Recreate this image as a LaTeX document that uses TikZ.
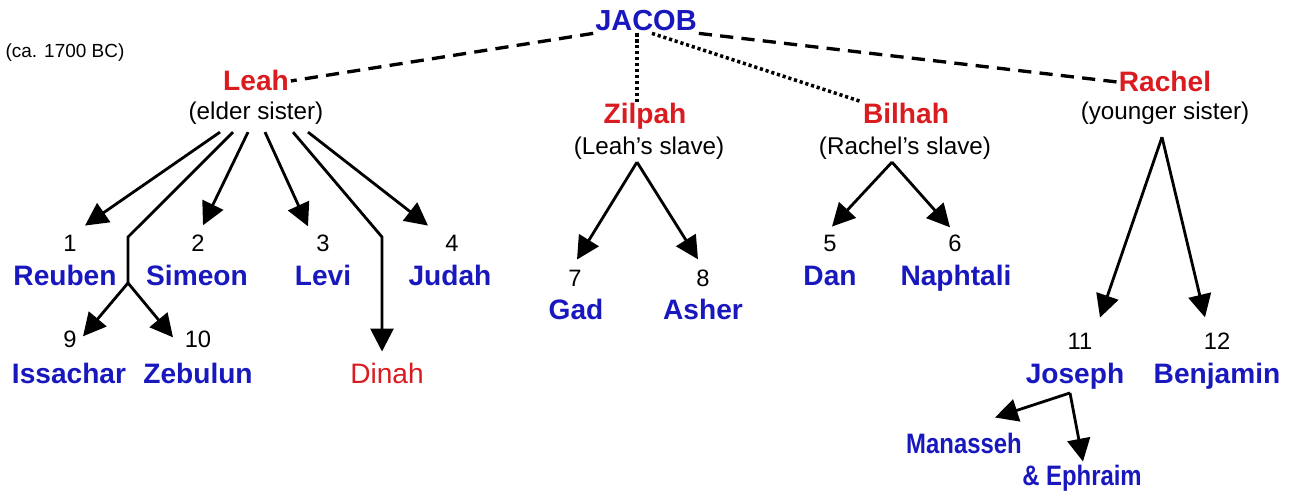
\documentclass[tikz,border=0pt]{standalone}
\usepackage{fontspec}
\setmainfont{Liberation Sans}
\newfontfamily\narrowsf[FakeStretch=0.85]{Liberation Sans}
\usetikzlibrary{arrows.meta, calc}
\definecolor{sonblue}{RGB}{24,24,190}
\definecolor{wifered}{RGB}{218,28,32}

\begin{document}
\begin{tikzpicture}[x=0.02cm, y=-0.02cm,
  every node/.style={inner sep=1pt, anchor=base},
  wife/.style={font=\fontsize{16}{19}\selectfont\bfseries, text=wifered},
  son/.style={font=\fontsize{16}{19}\selectfont\bfseries, text=sonblue},
  note/.style={font=\fontsize{13.8}{16}\selectfont},
  num/.style={font=\fontsize{13.5}{16}\selectfont},
  arr/.style={-{Triangle[length=13pt,width=13pt]}, line width=1.6pt},
  wed/.style={dash pattern=on 7.5pt off 4.7pt, line width=1.9pt},
  slave/.style={dash pattern=on 1.8pt off 1.6pt, line width=2pt}]
\fill[white] (0,0) rectangle (1299,493);
\useasboundingbox (0,0) rectangle (1299,493);
% Patriarch and wives
\node[font=\fontsize{16.5}{19}\selectfont\bfseries, text=sonblue] (jacob) at (646,31) {JACOB};
\node[font=\fontsize{10.8}{13}\selectfont] (era) at (65,58) {(ca. 1700 BC)};
\node[wife] (leah) at (256,91) {Leah};
\node[note] (leahsub) at (256,120) {(elder sister)};
\node[wife] (zilpah) at (645,124) {Zilpah};
\node[note] (zilpahsub) at (649,155) {(Leah's slave)};
\node[wife] (bilhah) at (906,124) {Bilhah};
\node[note] (bilhahsub) at (905,155) {(Rachel's slave)};
\node[wife] (rachel) at (1165,92) {Rachel};
\node[note] (rachelsub) at (1165,120) {(younger sister)};
% Sons of Leah
\node[num] (n1) at (70,252) {1};
\node[son] (reuben) at (65,286) {Reuben};
\node[num] (n2) at (198,252) {2};
\node[son] (simeon) at (197,286) {Simeon};
\node[num] (n3) at (323,252) {3};
\node[son] (levi) at (323,286) {Levi};
\node[num] (n4) at (452,252) {4};
\node[son] (judah) at (450,286) {Judah};
\node[num] (n9) at (70,348) {9};
\node[son] (issachar) at (69,383) {Issachar};
\node[num] (n10) at (198,348) {10};
\node[son] (zebulun) at (198,383) {Zebulun};
\node[font=\fontsize{16}{19}\selectfont, text=wifered] (dinah) at (387,383) {Dinah};
% Sons of the slaves
\node[num] (n7) at (575,287) {7};
\node[son] (gad) at (576,320) {Gad};
\node[num] (n8) at (703,287) {8};
\node[son] (asher) at (703,320) {Asher};
\node[num] (n5) at (830,252) {5};
\node[son] (dan) at (830,286) {Dan};
\node[num] (n6) at (955,252) {6};
\node[son] (naphtali) at (956,286) {Naphtali};
% Sons of Rachel
\node[num] (n11) at (1080,350) {11};
\node[son] (joseph) at (1075,383) {Joseph};
\node[num] (n12) at (1217,350) {12};
\node[son] (benjamin) at (1217,383) {Benjamin};
\node[son, font=\fontsize{16}{19}\selectfont\narrowsf\bfseries] (manasseh) at (964,453) {Manasseh};
\node[son, font=\fontsize{16}{19}\selectfont\narrowsf\bfseries] (ephraim) at (1082,485) {\& Ephraim};
% Marriages
\draw[wed] (jacob.south west) -- (leah.east);
\draw[wed] (jacob.south east) -- (rachel.west);
\draw[slave] ($(jacob.south)+(-9,0)$) -- ($(zilpah.north)+(-8,0)$);
\draw[slave] ($(jacob.south)+(6,0)$) -- (bilhah.north west);
% Leah's children
\coordinate (iszbend) at (128,237);
\coordinate (isz) at (128,283);
\coordinate (dinbend) at (382,237);
\draw[arr] ($(leahsub.south)+(-36,5)$) -- ($(n1.north)+(15,-8)$);
\draw[line width=1.6pt] ($(leahsub.south)+(-23,5)$) -- (iszbend) -- (isz);
\draw[arr] (isz) -- ($(n9.north)+(13,7)$);
\draw[arr] (isz) -- ($(n10.north)+(-25,8)$);
\draw[arr] ($(leahsub.south)+(-8,5)$) -- ($(n2.north)+(5,-8)$);
\draw[arr] ($(leahsub.south)+(9,5)$) -- ($(n3.north)+(-15,-7)$);
\draw[arr] ($(leahsub.south)+(37,5)$) -- (dinbend) -- ($(dinah.north)+(-5,-9)$);
\draw[arr] ($(leahsub.south)+(52,5)$) -- ($(n4.north)+(-24,-8)$);
% Zilpah's and Bilhah's children
\draw[arr] ($(zilpahsub.south)+(-12,0)$) -- ($(n7.north)+(2,-9)$);
\draw[arr] ($(zilpahsub.south)+(-12,0)$) -- ($(n8.north)+(-5,-9)$);
\draw[arr] ($(bilhahsub.south)+(-13,0)$) -- ($(n5.north)+(2,-7)$);
\draw[arr] ($(bilhahsub.south)+(-13,0)$) -- ($(n6.north)+(-5,-6)$);
% Rachel's children
\draw[arr] ($(rachelsub.south)+(-3,10)$) -- ($(n11.north)+(20,-14)$);
\draw[arr] ($(rachelsub.south)+(-3,10)$) -- ($(n12.north)+(-12,-14)$);
\draw[arr] ($(joseph.south)+(-5,2)$) -- ($(manasseh.north)+(31,-13)$);
\draw[arr] ($(joseph.south)+(-5,2)$) -- ($(ephraim.north)+(1,-1)$);
\end{tikzpicture}
\end{document}
